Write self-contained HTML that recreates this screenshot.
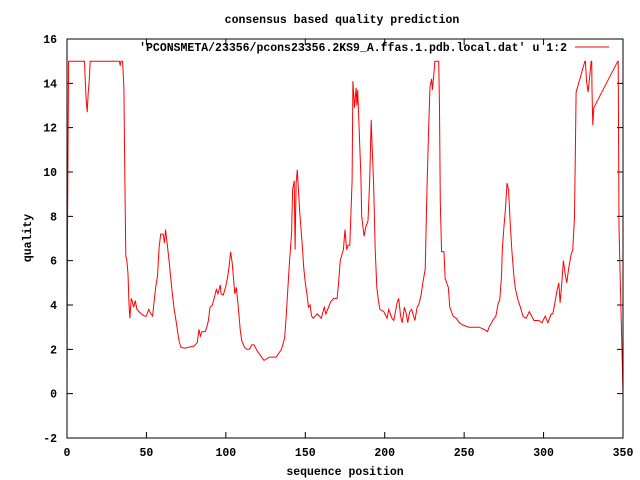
<!DOCTYPE html>
<html><head><meta charset="utf-8"><style>
html,body{margin:0;padding:0;background:#fff;}
svg{display:block;font-family:"Liberation Mono",monospace;font-weight:bold;font-size:11.5px;}
</style></head><body>
<svg id="chart" width="640" height="480" xmlns="http://www.w3.org/2000/svg">
<rect width="640" height="480" fill="#fff"/>
<text x="342" y="23" text-anchor="middle">consensus based quality prediction</text>
<text x="345" y="475" text-anchor="middle">sequence position</text>
<text transform="translate(31,238) rotate(-90)" text-anchor="middle">quality</text>
<g id="axes"></g>
<g id="series"></g>
<rect x="67" y="39" width="556" height="399" fill="none" stroke="#000" stroke-width="1"/>
<g>
<text x="567" y="51" text-anchor="end">'PCONSMETA/23356/pcons23356.2KS9_A.ffas.1.pdb.local.dat' u 1:2</text>
<line x1="575" y1="47" x2="609" y2="47" stroke="#f00" stroke-width="1"/>
</g>
</svg>
<script>
const xTicks = [0,50,100,150,200,250,300,350];
const yTicks = [-2,0,2,4,6,8,10,12,14,16];
const posX = [0,0.3,1,11,11.3,12,12.7,13.3,14,14.6,33,33.5,34,35,35.8,36.4,37,37.7,38.4,39,39.6,40.4,41,42,43,44,45.3,46.7,48.8,50,51.4,52.8,53.9,55,56,57,58,59,60.5,61.4,62,63,64.4,65.6,66.5,67.5,68.6,69.6,70.6,71.7,73.8,77,80,82,83,84,85,87,88,89,90,91.5,93,94,95,96.5,97,98.4,99.8,101,102,103,104,105.6,106.6,107.6,109,110,111.7,113,114.8,116.3,117.7,120,124,127.6,131.7,135,137,138,139,140,141.4,142,143,143.6,144.2,145,146.5,148,149,150,151,152,153,154,155,157.6,160,162,163,166,168,170,171,172,174,175,176,177,178,179.5,180,181,182,182.5,183,184,185,185.5,187,188,189.5,190.5,191.5,192,193,194,195,196,197,199.4,201.5,202.5,204.6,205.7,207.8,208.8,210,211,212.4,213.6,214.5,215.7,217,218.2,219,220.4,221.4,223,224,225.5,226.5,227.5,228.5,229.5,230,231,231.6,234,234.5,235,235.8,237.3,238,240,241,243,245,247,249,253,255,257,259.5,262.6,264.7,265.7,268,270,271.5,272.4,273.5,274,275,276,277,278,279,280,281.3,282.3,284,285.4,287,289,291,294,297,299,301,302.7,304.8,305.8,306.9,308.3,309.6,310.4,311.5,312.5,313.8,314.6,315.7,317.4,318.4,319.5,320,320.5,326,326.3,327,328,330,330.3,330.5,331,331.6,346.7,347,347.5,350];
const quality = [0,7.5,15,15,14.4,13.3,12.7,13.5,14.1,15,15,14.8,15,15,13.8,9.9,6.2,6.0,5.4,4.0,3.4,4.3,4.2,3.9,4.2,3.8,3.7,3.6,3.5,3.5,3.8,3.6,3.5,4.3,4.9,5.3,6.6,7.2,7.2,6.8,7.4,6.8,5.9,5.0,4.4,3.8,3.3,2.8,2.35,2.1,2.05,2.1,2.15,2.3,2.9,2.6,2.8,2.8,3.0,3.3,3.9,4.0,4.4,4.7,4.5,4.9,4.5,4.45,4.8,5.2,5.7,6.4,5.9,4.5,4.8,4.1,2.9,2.4,2.1,2.0,2.0,2.2,2.2,1.9,1.5,1.65,1.65,2.0,2.5,3.5,4.7,5.9,7.25,9.2,9.6,6.5,9.5,10.1,8.2,6.8,5.7,5.0,4.5,3.9,4.0,3.5,3.4,3.6,3.4,3.9,3.6,4.15,4.3,4.3,5.0,6.0,6.5,7.4,6.5,6.7,6.7,9.6,14.1,12.9,13.8,13.0,13.7,11.75,9.8,8.0,7.1,7.5,7.8,9.5,12.35,11.3,9.5,6.5,4.8,4.2,3.8,3.7,3.4,3.8,3.4,3.3,4.1,4.3,3.5,3.2,3.9,3.6,3.2,3.7,3.8,3.5,3.3,3.9,4.0,4.5,5.0,5.6,8.9,11.6,13.85,14.2,13.7,14.5,15,15,12.9,8.6,6.4,6.4,5.2,4.8,3.9,3.5,3.4,3.2,3.1,3.0,3.0,3.0,3.0,2.9,2.8,3.0,3.3,3.5,4.1,4.2,5.3,6.5,7.5,8.3,9.5,9.2,7.7,6.5,5.3,4.7,4.2,3.9,3.5,3.4,3.7,3.3,3.3,3.2,3.5,3.2,3.6,3.6,4.0,4.6,5.0,4.1,5.0,6.0,5.3,5.0,5.6,6.3,6.5,8.0,10.7,13.6,15,15,14.1,13.6,15,15,13.7,12.1,12.9,15,15,7.5,0,0];
const X0=67,X1=623,Y0=438,Y1=39,XMIN=0,XMAX=350,YMIN=-2,YMAX=16;
function sx(v){return X0+(v-XMIN)/(XMAX-XMIN)*(X1-X0);}
function sy(v){return Y0-(v-YMIN)/(YMAX-YMIN)*(Y0-Y1);}
const NS="http://www.w3.org/2000/svg";
const axes=document.getElementById('axes');
xTicks.forEach(function(t){
  const x=sx(t);
  const l=document.createElementNS(NS,'path');
  l.setAttribute('d','M'+x+' '+Y0+'V'+(Y0-6)+'M'+x+' '+Y1+'V'+(Y1+6));
  l.setAttribute('stroke','#000');
  
  
  axes.appendChild(l);
  const tx=document.createElementNS(NS,'text');
  tx.setAttribute('x',x);tx.setAttribute('y',Y0+18);tx.setAttribute('text-anchor','middle');
  tx.textContent=t;
  
  
  axes.appendChild(tx);
});
yTicks.forEach(function(t){
  const y=sy(t);
  const l=document.createElementNS(NS,'path');
  l.setAttribute('d','M'+X0+' '+y+'H'+(X0+6)+'M'+X1+' '+y+'H'+(X1-6));
  l.setAttribute('stroke','#000');
  
  
  axes.appendChild(l);
  const tx=document.createElementNS(NS,'text');
  tx.setAttribute('x',X0-10);tx.setAttribute('y',y+4);tx.setAttribute('text-anchor','end');
  tx.textContent=t;
  
  
  axes.appendChild(tx);
});
let d='';
for(let i=0;i<posX.length;i++){d+=(i?'L':'M')+sx(posX[i]).toFixed(1)+' '+sy(quality[i]).toFixed(1);}
const p=document.createElementNS(NS,'path');
p.setAttribute('d',d);p.setAttribute('fill','none');p.setAttribute('stroke','#f00');p.setAttribute('stroke-width','1');


document.getElementById('series').appendChild(p);
</script>
</body></html>
